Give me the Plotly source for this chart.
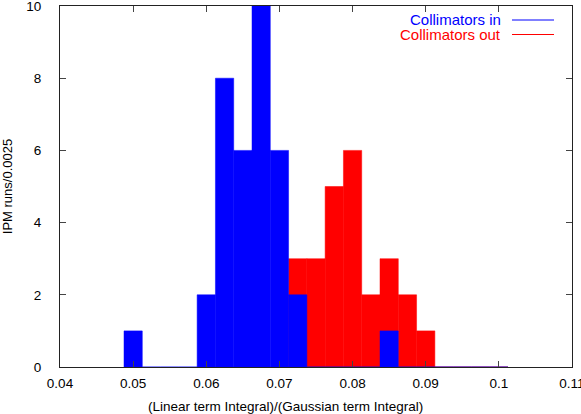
import plotly.graph_objects as go

# bin centres (width 0.0025) and counts per bin
bins_in = [0.05, 0.0525, 0.055, 0.0575, 0.06, 0.0625, 0.065, 0.0675, 0.07, 0.0725,
           0.075, 0.0775, 0.08, 0.0825, 0.085, 0.0875, 0.09, 0.0925, 0.095, 0.0975, 0.1]
counts_in = [1, 0, 0, 0, 2, 8, 6, 10, 6, 2,
             0, 0, 0, 0, 1, 0, 0, 0, 0, 0, 0]

bins_out = [0.0725, 0.075, 0.0775, 0.08, 0.0825, 0.085, 0.0875, 0.09, 0.0925, 0.095, 0.0975, 0.1]
counts_out = [3, 3, 5, 6, 2, 3, 2, 1, 0, 0, 0, 0]

bin_width = 0.0025
x_ticks = [0.04, 0.05, 0.06, 0.07, 0.08, 0.09, 0.1, 0.11]
x_labels = ["0.04", "0.05", "0.06", "0.07", "0.08", "0.09", "0.1", "0.11"]

BLUE = "#0000ff"
RED = "#ff0000"
FONT = "Liberation Sans, Arial, sans-serif"

fig = go.Figure()
# red first, blue drawn on top (as in the original)
fig.add_trace(go.Bar(x=bins_out, y=counts_out, width=bin_width,
                     marker=dict(color=RED, line=dict(color=RED, width=0.5)),
                     name="Collimators out"))
fig.add_trace(go.Bar(x=bins_in, y=counts_in, width=bin_width,
                     marker=dict(color=BLUE, line=dict(color=BLUE, width=0.5)),
                     name="Collimators in"))

fig.update_layout(
    width=581, height=414,
    barmode="overlay",
    showlegend=False,
    paper_bgcolor="white",
    plot_bgcolor="white",
    font=dict(family=FONT, size=13.5, color="black"),
    margin=dict(l=60, r=9, t=6, b=47, autoexpand=False),
)

fig.update_xaxes(
    range=[0.04, 0.11], tickvals=x_ticks, ticktext=x_labels,
    showline=True, linecolor="#222", linewidth=1, mirror="ticks",
    ticks="inside", ticklen=6, tickcolor="#444",
    showgrid=False, zeroline=False, automargin=False,
    ticklabelstandoff=4, ticklabeloverflow="allow",
)
fig.update_yaxes(
    range=[0, 10], dtick=2,
    showline=True, linecolor="#222", linewidth=1, mirror="ticks",
    ticks="inside", ticklen=6, tickcolor="#444",
    showgrid=False, zeroline=False, automargin=False,
    ticklabelstandoff=15, ticklabeloverflow="allow",
    title=dict(text="IPM runs/0.0025", font=dict(size=13), standoff=12),
)

# x label is centred on the whole canvas in the original, not on the axis
fig.add_annotation(x=(285 - 60) / 512, y=-(406 - 367) / 361, xref="paper", yref="paper",
                   text="(Linear term Integral)/(Gaussian term Integral)",
                   showarrow=False, xanchor="center", yanchor="middle",
                   font=dict(size=13.5, family=FONT))

# gnuplot-style key: coloured text with a line sample on its right
key = [("Collimators in", BLUE, 20), ("Collimators out", RED, 34.5)]
for label, col, ypix in key:
    yp = 1 - (ypix - 6) / 361
    fig.add_annotation(x=(503 - 60) / 512, y=yp, xref="paper", yref="paper",
                       text=label, showarrow=False, xanchor="right", yanchor="middle",
                       font=dict(size=15, color=col, family=FONT))
    fig.add_shape(type="line", xref="paper", yref="paper",
                  x0=(512 - 60) / 512, x1=(554 - 60) / 512, y0=yp, y1=yp,
                  line=dict(color=col, width=1))

# drop the default page margin so the figure sits at the window's corner
fig.write_html("out.html", config={"displayModeBar": False},
               post_script="document.body.style.margin = '0';")
